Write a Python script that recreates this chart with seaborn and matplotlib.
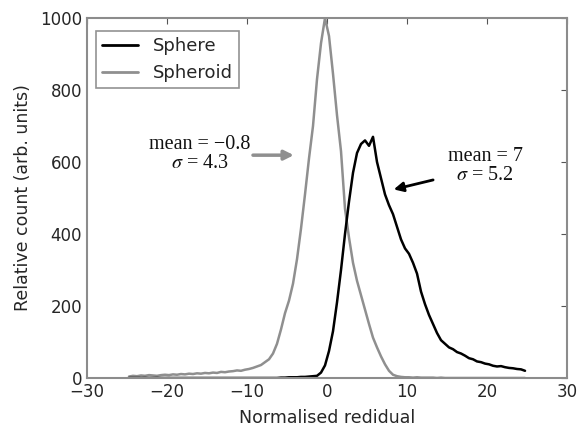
import numpy as np
import pandas as pd
import matplotlib
matplotlib.use("Agg")
import matplotlib.pyplot as plt
import seaborn as sns

# bin centres (width 0.5) from -25 to 25
centers = np.arange(-24.75, 25.0, 0.5)

spheroid = [
    # -25 .. -20
    4, 6, 5, 7, 6, 8, 7, 6, 8, 9,
    # -20 .. -15
    8, 10, 9, 11, 10, 12, 11, 13, 12, 14,
    # -15 .. -10
    13, 15, 14, 17, 16, 18, 19, 21, 20, 23,
    # -10 .. -8
    25, 28, 32, 36,
    # -8 .. -5
    44, 52, 68, 95, 135, 180,
    # -5 .. -2.5
    215, 262, 330, 415, 510,
    # -2.5 .. 0
    610, 700, 830, 930, 1000,
    # 0 .. 2.5
    950, 845, 730, 630, 470,
    # 2.5 .. 5
    390, 320, 270, 230, 190,
    # 5 .. 7.5
    150, 112, 85, 60, 38,
    # 7.5 .. 10
    20, 9, 5, 3, 2,
    # 10 .. 25
    2, 1, 2, 1, 1, 1, 1, 0, 1, 0,
    0, 0, 0, 0, 0, 0, 0, 0, 0, 0,
    0, 0, 0, 0, 0, 0, 0, 0, 0, 0,
]

sphere = [
    # -25 .. -20
    0, 0, 0, 0, 0, 0, 0, 0, 0, 0,
    # -20 .. -15
    0, 0, 0, 0, 0, 0, 0, 0, 0, 0,
    # -15 .. -10
    0, 0, 0, 0, 0, 0, 0, 0, 0, 0,
    # -10 .. -8
    0, 0, 0, 0,
    # -8 .. -5
    0, 0, 0, 0, 1, 1,
    # -5 .. -2.5
    2, 2, 2, 3, 3,
    # -2.5 .. 0
    4, 5, 6, 15, 35,
    # 0 .. 2.5
    75, 130, 210, 300, 400,
    # 2.5 .. 5
    490, 570, 625, 650, 660,
    # 5 .. 7.5
    645, 670, 600, 555, 510,
    # 7.5 .. 10
    480, 455, 420, 385, 360,
    # 10 .. 25
    345, 320, 290, 240, 205, 175, 150, 125, 105, 95,
    85, 80, 72, 68, 62, 55, 52, 46, 44, 40,
    38, 34, 32, 33, 30, 28, 27, 25, 24, 20,
]

series_names = ["Sphere", "Spheroid"]
series_colors = {"Sphere": "#000000", "Spheroid": "#8f8f8f"}
x_ticks = [-30, -20, -10, 0, 10, 20, 30]
y_ticks = [0, 200, 400, 600, 800, 1000]

df = pd.DataFrame({
    "x": np.concatenate([centers, centers]),
    "count": np.concatenate([sphere, spheroid]),
    "series": ["Sphere"] * len(centers) + ["Spheroid"] * len(centers),
})

sns.set_style("white")
plt.rcParams["font.family"] = ["DejaVu Sans"]
plt.rcParams["mathtext.fontset"] = "stix"

fig = plt.figure(figsize=(5.78, 4.26), dpi=100)
ax = fig.add_axes([0.1505, 0.1127, 0.8305, 0.845])

sns.lineplot(data=df[df.series == "Spheroid"], x="x", y="count",
             color=series_colors["Spheroid"], lw=1.8, ax=ax,
             label="Spheroid")
sns.lineplot(data=df[df.series == "Sphere"], x="x", y="count",
             color=series_colors["Sphere"], lw=1.8, ax=ax,
             label="Sphere")

ax.set_xlim(-30, 30)
ax.set_ylim(0, 1000)
ax.set_xticks(x_ticks)
ax.set_yticks(y_ticks)
ax.set_xticklabels([f"{t}".replace("-", "\u2212") for t in x_ticks])
ax.set_xlabel("Normalised redidual", fontsize=12.5, labelpad=6)
ax.set_ylabel("Relative count (arb. units)", fontsize=12.5, labelpad=6)
ax.tick_params(axis="both", labelsize=12, direction="in", length=4,
               color="#555555", top=True, right=True)
for s in ax.spines.values():
    s.set_color("#8c8c8c")
    s.set_linewidth(1.5)

handles, labels = ax.get_legend_handles_labels()
order = [labels.index(n) for n in series_names]
leg = ax.legend([handles[i] for i in order], [labels[i] for i in order],
                loc="upper left", fontsize=13, frameon=True, fancybox=False,
                edgecolor="#777777", borderpad=0.35, handlelength=2.0,
                bbox_to_anchor=(0.0, 0.99))
leg.get_frame().set_linewidth(1.2)
for h in leg.get_lines():
    h.set_linewidth(2)

ax.annotate("", xy=(-3.8, 619), xytext=(-9.6, 619),
            arrowprops=dict(arrowstyle="-|>", color="#8f8f8f", lw=2.5,
                            mutation_scale=14))
ax.text(-15.9, 622, "mean = \u22120.8\n$\\sigma$ = 4.3", ha="center", va="center",
        fontsize=14.5, family="Liberation Serif", color="#111111",
        linespacing=1.0)
ax.annotate("", xy=(8.0, 522), xytext=(13.6, 552),
            arrowprops=dict(arrowstyle="-|>", color="#000000", lw=2,
                            mutation_scale=14))
ax.text(19.75, 589, "mean = 7\n$\\sigma$ = 5.2", ha="center", va="center",
        fontsize=14.5, family="Liberation Serif", color="#111111",
        linespacing=1.0)

fig.savefig("out.png", dpi=100)
